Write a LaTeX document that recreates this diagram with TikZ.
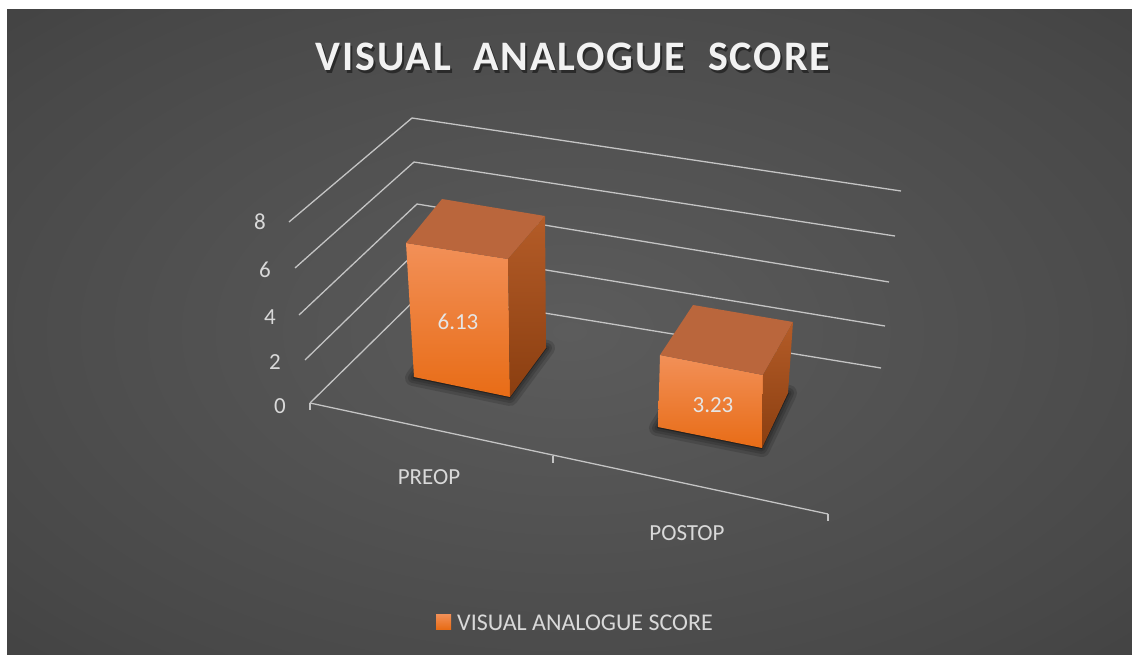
\documentclass[tikz,border=0pt]{standalone}
\usepackage{fontspec}
\setmainfont{Carlito}
\usepackage{xcolor}
\usetikzlibrary{calc}

\definecolor{bgin}{RGB}{92,92,92}
\definecolor{bgmid}{RGB}{72,72,72}
\definecolor{bgout}{RGB}{36,36,36}
\definecolor{gridcol}{RGB}{196,196,196}
\definecolor{labcol}{RGB}{217,217,217}
\definecolor{frontTop}{RGB}{242,144,88}
\definecolor{frontBot}{RGB}{232,108,22}
\definecolor{topFace}{RGB}{186,102,60}
\definecolor{sideTop}{RGB}{180,92,40}
\definecolor{sideBot}{RGB}{138,62,16}

\pgfdeclareradialshading{bgglow}{\pgfpoint{0bp}{0bp}}{color(0bp)=(bgin); color(30bp)=(bgmid); color(72bp)=(bgout)}

\begin{document}
\begin{tikzpicture}[x=1pt, y=-1pt,
    gridline/.style={gridcol, line width=1.3pt},
    axlab/.style={text=labcol, font=\fontsize{23}{23}\selectfont},
    barlab/.style={text=white!90!black, font=\fontsize{23}{23}\selectfont},
    softshadow/.style={black, opacity=.14, line width=#1, line join=round}]
    \useasboundingbox (0,0) rectangle (1132,654);

    % Background
    \fill[white] (0,0) rectangle (1132,654);
    \shade[shading=bgglow] (7,9) rectangle (1132,654);

    % Title
    \node[text=black, opacity=.45, font=\bfseries\fontsize{42}{42}\selectfont\addfontfeature{LetterSpace=4.5}] at (575,60) {VISUAL\ \ ANALOGUE\ \ SCORE};
    \node[text=white!95!black, font=\bfseries\fontsize{42}{42}\selectfont\addfontfeature{LetterSpace=4.5}] (title) at (573,57) {VISUAL\ \ ANALOGUE\ \ SCORE};

    % Walls: gridlines and value labels
    \foreach \val/\ax/\ay/\cx/\cy/\ex/\ey/\lx/\ly in {
        8/289/222/412/118/901/191/260/222,
        6/295/268/414/162/895/236/265/270,
        4/299/315/417/204/889/282/270/317,
        2/305/360/419/249/885/326/275/362,
        0/310/403/422/293/881/368/280/406}
    {
        \draw[gridline] (\ax,\ay) -- (\cx,\cy) -- (\ex,\ey);
        \node[axlab] (y\val) at (\lx,\ly) {\val};
    }

    % Floor edge with ticks
    \draw[gridline] (310,403) -- (828,514);
    \draw[gridline] (310,403) -- (310,410);
    \draw[gridline] (553,456) -- (553,463);
    \draw[gridline] (828,514) -- (828,521);

    % PREOP bar
    \foreach \w in {16pt,10pt,5pt}
        \filldraw[softshadow=\w] (413,378) -- (510,398) -- (547,348) -- (450,328) -- cycle;
    \shade[top color=frontTop, bottom color=frontBot] (406,243) -- (508,259) -- (510,397) -- (414,377) -- cycle;
    \fill[topFace] (406,243) -- (442,199) -- (545,216) -- (508,259) -- cycle;
    \shade[top color=sideTop, bottom color=sideBot] (508,259) -- (545,216) -- (546,348) -- (510,397) -- cycle;
    \node[barlab] (v1) at (458,322) {6.13};

    % POSTOP bar
    \foreach \w in {16pt,10pt,5pt}
        \filldraw[softshadow=\w] (657,428) -- (762,449) -- (789,393) -- (690,375) -- cycle;
    \shade[top color=frontTop, bottom color=frontBot] (660,355) -- (763,375) -- (762,448) -- (658,427) -- cycle;
    \fill[topFace] (660,355) -- (693,305) -- (793,322) -- (763,375) -- cycle;
    \shade[top color=sideTop, bottom color=sideBot] (763,375) -- (793,322) -- (788,393) -- (762,448) -- cycle;
    \node[barlab] (v2) at (713,405) {3.23};

    % Category labels
    \node[axlab] (preop) at (429,477) {PREOP};
    \node[axlab] (postop) at (687,533) {POSTOP};

    % Legend
    \shade[top color=frontTop, bottom color=frontBot] (436,614) rectangle (451,629);
    \node[axlab, font=\fontsize{24}{24}\selectfont, anchor=west, inner sep=0pt] (legend) at (457,623) {VISUAL ANALOGUE SCORE};
\end{tikzpicture}
\end{document}
